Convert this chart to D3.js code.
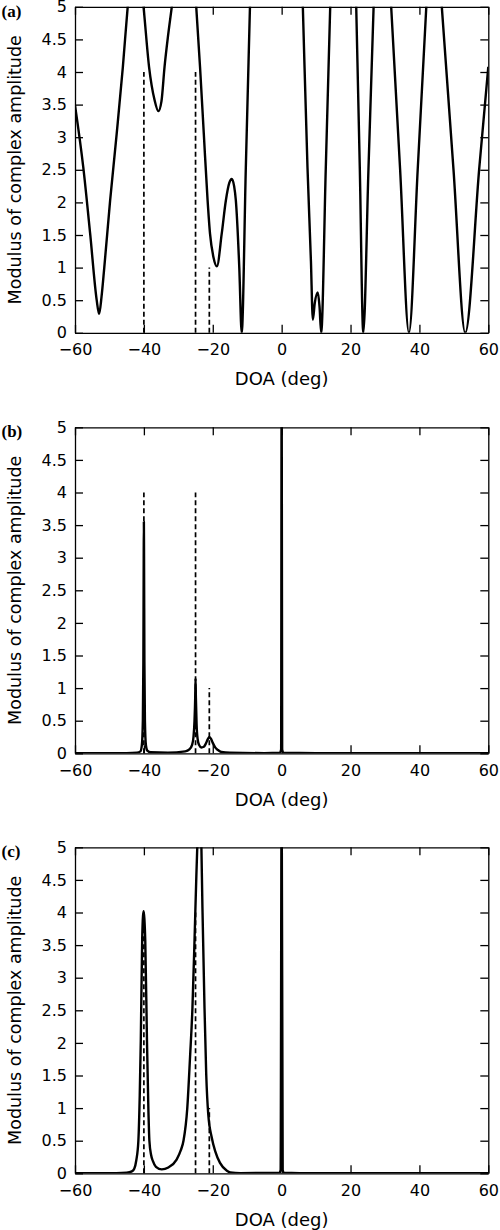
<!DOCTYPE html>
<html>
<head>
<meta charset="utf-8">
<script src="https://cdn.jsdelivr.net/npm/d3@7"></script>
<style>
  body { margin: 0; background: #fff; }
  svg { display: block; }
  .tick text { font-family: "DejaVu Sans", sans-serif; font-size: 16px; fill: #000; }
  .domain, .tick line { stroke: #000; stroke-width: 1.3px; }
</style>
</head>
<body>
<div id="chart"></div>
<script>
// axis ticks
var doaTicks = [-60, -40, -20, 0, 20, 40, 60];
var ampTicks = [0, 0.5, 1, 1.5, 2, 2.5, 3, 3.5, 4, 4.5, 5];

// true sources (dashed lines)
var trueDoa = [-40, -25, -21];
var trueAmp = [4, 4, 1];

// (a) estimate
var doaA = [-60, -57.6, -55.6, -53.7, -53.0, -52.3, -51.5, -49.8, -47.9, -46.1, -44.7, -42.4, -40.1, -38.5, -36.9, -35.8, -34.9, -34.0, -33.0, -31.9, -28.3, -24.8, -23.7, -22.6, -21.5, -20.8, -19.8, -18.8, -17.4, -16.2, -15.2, -14.5, -13.8, -13.3, -12.3, -11.6, -10.4, -9.2, -2.4, 6.15, 7.5, 8.5, 9.06, 9.6, 10.5, 11.0, 11.48, 12.8, 14.1, 18.3, 21.65, 22.7, 23.7, 25.2, 26.7, 28.6, 31.8, 34.4, 36.96, 39.5, 42.0, 43.9, 46.5, 49.9, 53.3, 57.4, 60];
var ampA = [3.49, 2.54, 1.52, 0.50, 0.29, 0.55, 1.0, 2.03, 3.05, 4.08, 5.0, 6.1, 5.0, 4.08, 3.57, 3.40, 3.55, 4.08, 4.55, 5.0, 6.7, 5.0, 4.08, 3.05, 2.03, 1.52, 1.16, 1.02, 1.52, 2.03, 2.3, 2.36, 2.25, 2.03, 1.0, 0, 2.54, 5.0, 19, 5.0, 2.54, 1.1, 0.2, 0.45, 0.62, 0.4, 0, 2.5, 5.0, 13, 5.0, 2.5, 0, 2.5, 5.0, 8.1, 5.0, 2.5, 0, 2.5, 5.0, 6.9, 5.0, 2.5, 0, 2.54, 4.08];

// (b) estimate
var doaB = [-60, -45, -42, -41, -40.6, -40.3, -40.15, -40.05, -40, -39.95, -39.85, -39.7, -39.4, -39, -38, -33, -28, -26.8, -26, -25.6, -25.3, -25.1, -25, -24.9, -24.7, -24.4, -24, -23.3, -22.6, -22, -21.5, -21, -20.5, -20, -19.3, -18.5, -17.5, -15, -5, -0.5, -0.15, 0, 0.15, 0.5, 10, 60];
var ampB = [0, 0.003, 0.01, 0.03, 0.12, 0.5, 1.4, 3.0, 3.55, 3.0, 1.4, 0.5, 0.12, 0.04, 0.015, 0.01, 0.03, 0.06, 0.13, 0.25, 0.5, 0.85, 1.15, 0.85, 0.45, 0.22, 0.13, 0.09, 0.1, 0.15, 0.21, 0.25, 0.22, 0.16, 0.09, 0.05, 0.02, 0.008, 0.003, 0.01, 0.06, 6, 0.06, 0.01, 0.003, 0];

// (c) estimate
var doaC = [-60, -48, -45, -43.5, -42.8, -42.2, -41.6, -41.2, -40.9, -40.5, -40.25, -40.05, -39.85, -39.6, -39.1, -38.7, -38.4, -37.9, -37.4, -36.5, -34.8, -32.9, -30.5, -29.3, -28.5, -27.4, -26.6, -25.9, -25.3, -24.75, -24.5, -23.75, -23.3, -23.0, -22.4, -21.9, -21.3, -20.3, -19.3, -17.9, -15.9, -14.9, -12, -0.6, -0.3, 0, 0.3, 0.6, 10, 60];
var ampC = [0, 0.003, 0.01, 0.03, 0.07, 0.2, 0.5, 1.2, 2.03, 3.57, 3.95, 4.02, 3.9, 3.57, 2.03, 1.0, 0.5, 0.28, 0.19, 0.1, 0.06, 0.09, 0.21, 0.35, 0.5, 1.0, 1.78, 2.54, 3.57, 4.59, 5.0, 6.2, 5.0, 4.08, 2.54, 1.52, 0.9, 0.55, 0.34, 0.16, 0.04, 0.015, 0.003, 0.01, 0.05, 6, 0.05, 0.01, 0.002, 0];

var panelLabels = ["(a)", "(b)", "(c)"];
var panelDoa = [doaA, doaB, doaC];
var panelAmp = [ampA, ampB, ampC];

var width = 500, height = 1230;
var left = 75, plotW = 413.3, plotH = 326;
var tops = [6.8, 427.3, 847.3];

var svg = d3.select("#chart").append("svg")
    .attr("width", width)
    .attr("height", height);

var x = d3.scaleLinear().domain([-60, 60]).range([0, plotW]);
var y = d3.scaleLinear().domain([0, 5]).range([plotH, 0]);

var line = d3.line()
    .x(function(d){ return x(d[0]); })
    .y(function(d){ return y(d[1]); })
    .curve(d3.curveMonotoneX);

panelLabels.forEach(function(lbl, i){
  var g = svg.append("g").attr("transform", "translate(" + left + "," + tops[i] + ")");

  g.append("clipPath").attr("id", "clip" + i)
    .append("rect").attr("width", plotW).attr("height", plotH);

  // axes, ticks pointing in
  g.append("g").attr("transform", "translate(0," + plotH + ")")
    .call(d3.axisBottom(x).tickValues(doaTicks).tickSizeInner(-8).tickSizeOuter(0).tickPadding(11));
  g.append("g")
    .call(d3.axisLeft(y).tickValues(ampTicks).tickSizeInner(-8).tickSizeOuter(0).tickPadding(8).tickFormat(d3.format("")));
  g.append("g")
    .call(d3.axisTop(x).tickValues(doaTicks).tickSizeInner(-8).tickSizeOuter(0).tickFormat(""));
  g.append("g").attr("transform", "translate(" + plotW + ",0)")
    .call(d3.axisRight(y).tickValues(ampTicks).tickSizeInner(-8).tickSizeOuter(0).tickFormat(""));

  var pts = panelDoa[i].map(function(d, k){ return [d, panelAmp[i][k]]; });
  g.append("path")
    .datum(pts)
    .attr("clip-path", "url(#clip" + i + ")")
    .attr("fill", "none")
    .attr("stroke", "#000")
    .attr("stroke-width", 2.4)
    .attr("stroke-linejoin", "round")
    .attr("d", line);

  g.selectAll("line.truth")
    .data(trueDoa)
    .enter()
    .append("line")
    .attr("class", "truth")
    .attr("x1", function(d){ return x(d); })
    .attr("x2", function(d){ return x(d); })
    .attr("y1", y(0))
    .attr("y2", function(d, k){ return y(trueAmp[k]); })
    .attr("stroke", "#000")
    .attr("stroke-width", 1.7)
    .attr("stroke-dasharray", "5,3");

  g.append("text")
    .attr("x", plotW / 2)
    .attr("y", plotH + 52.5)
    .attr("text-anchor", "middle")
    .style("font-family", "'DejaVu Sans', sans-serif")
    .style("font-size", "18px")
    .text("DOA (deg)");

  g.append("text")
    .attr("transform", "translate(" + (-54.5) + "," + (plotH / 2) + ") rotate(-90)")
    .attr("text-anchor", "middle")
    .style("font-family", "'DejaVu Sans', sans-serif")
    .style("font-size", "17.5px")
    .text("Modulus of complex amplitude");

  svg.append("text")
    .attr("x", 1.5)
    .attr("y", tops[i] + 10)
    .style("font-family", "'Liberation Serif', serif")
    .style("font-weight", "bold")
    .style("font-size", "17px")
    .text(lbl);
});
</script>
</body>
</html>
